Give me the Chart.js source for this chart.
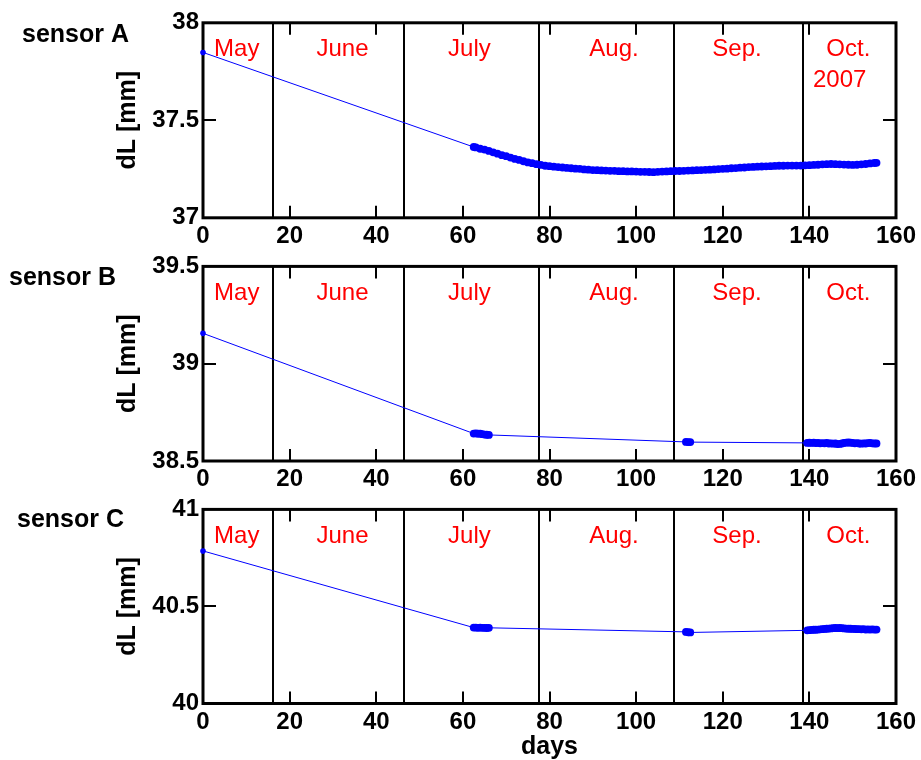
<!DOCTYPE html>
<html>
<head>
<meta charset="utf-8">
<script src="https://cdn.jsdelivr.net/npm/chart.js@4/dist/chart.umd.min.js"></script>
<style>
  body { margin: 0; background: #fff; }
  #wrap { position: relative; width: 921px; height: 760px; }
  canvas { position: absolute; left: 0; }
</style>
</head>
<body>
<div id="wrap">
  <canvas id="chartA" width="921" height="248" style="top:0px"></canvas>
  <canvas id="chartB" width="921" height="243" style="top:248px"></canvas>
  <canvas id="chartC" width="921" height="269" style="top:491px"></canvas>
</div>
<script>
// x axis (days) shared by all panels
const xTicks = [0, 20, 40, 60, 80, 100, 120, 140, 160];
const xTickLabels = ['0', '20', '40', '60', '80', '100', '120', '140', '160'];

// month boundaries and month names (days)
const monthBounds = [16.2, 46.3, 77.6, 108.7, 138.6];
const monthNames = ['May', 'June', 'July', 'Aug.', 'Sep.', 'Oct.'];
const monthCenters = [7.8, 32.2, 61.5, 94.9, 123.3, 149.0];

// sensor A
const yTicksA = [37, 37.5, 38];
const yTickLabelsA = ['37', '37.5', '38'];
const daysA = [0, 62.5, 63, 64, 65, 66, 67, 68, 69, 70, 71, 72, 73, 74, 75, 76, 77, 78, 79, 80,
  81, 82, 83, 84, 85, 86, 87, 88, 89, 90, 91, 92, 93, 94, 95, 96, 97, 98, 99, 100,
  101, 102, 103, 104, 105, 106, 107, 108, 109, 110, 111, 112, 113, 114, 115, 116, 117, 118, 119, 120,
  121, 122, 123, 124, 125, 126, 127, 128, 129, 130, 131, 132, 133, 134, 135, 136, 137, 138, 139, 140,
  141, 142, 143, 144, 145, 146, 147, 148, 149, 150, 151, 152, 153, 154, 155, 155.5];
const dLA = [37.848, 37.363, 37.361, 37.354, 37.350, 37.343, 37.336, 37.329, 37.321, 37.316, 37.309, 37.302, 37.297, 37.290, 37.284, 37.280, 37.275, 37.271, 37.267, 37.265,
  37.262, 37.260, 37.258, 37.256, 37.254, 37.252, 37.251, 37.248, 37.247, 37.245, 37.244, 37.243, 37.242, 37.241, 37.241, 37.239, 37.239, 37.238, 37.238, 37.237,
  37.236, 37.236, 37.235, 37.234, 37.236, 37.237, 37.238, 37.239, 37.240, 37.240, 37.241, 37.242, 37.243, 37.244, 37.245, 37.246, 37.247, 37.248, 37.250, 37.251,
  37.252, 37.254, 37.255, 37.257, 37.258, 37.260, 37.261, 37.262, 37.263, 37.264, 37.265, 37.266, 37.267, 37.267, 37.268, 37.268, 37.268, 37.268, 37.269, 37.270,
  37.271, 37.272, 37.274, 37.275, 37.276, 37.275, 37.274, 37.273, 37.272, 37.271, 37.272, 37.274, 37.276, 37.279, 37.281, 37.282];

// sensor B
const yTicksB = [38.5, 39, 39.5];
const yTickLabelsB = ['38.5', '39', '39.5'];
const daysB = [0, 62.5, 63, 63.5, 64, 64.5, 65, 65.5, 66, 111.5, 112, 112.5,
  139.5, 140, 140.5, 141, 141.5, 142, 142.5, 143, 143.5, 144, 144.5, 145, 145.5, 146, 146.5, 147, 147.5,
  148, 148.5, 149, 149.5, 150, 150.5, 151, 151.5, 152, 152.5, 153, 153.5, 154, 154.5, 155, 155.5];
const dLB = [39.156, 38.641, 38.642, 38.640, 38.641, 38.638, 38.636, 38.635, 38.634, 38.598, 38.597, 38.597,
  38.593, 38.594, 38.593, 38.594, 38.592, 38.593, 38.591, 38.592, 38.591, 38.593, 38.590, 38.591, 38.589, 38.590, 38.587, 38.588, 38.590,
  38.593, 38.594, 38.595, 38.594, 38.593, 38.591, 38.592, 38.590, 38.589, 38.591, 38.590, 38.592, 38.593, 38.591, 38.590, 38.590];

// sensor C
const yTicksC = [40, 40.5, 41];
const yTickLabelsC = ['40', '40.5', '41'];
const daysC = [0, 62.5, 63, 63.5, 64, 64.5, 65, 65.5, 66, 111.5, 112, 112.5,
  139.5, 140, 140.5, 141, 141.5, 142, 142.5, 143, 143.5, 144, 144.5, 145, 145.5, 146, 146.5, 147, 147.5,
  148, 148.5, 149, 149.5, 150, 150.5, 151, 151.5, 152, 152.5, 153, 153.5, 154, 154.5, 155, 155.5];
const dLC = [40.786, 40.391, 40.391, 40.390, 40.391, 40.390, 40.390, 40.389, 40.390, 40.369, 40.367, 40.366,
  40.377, 40.378, 40.379, 40.380, 40.380, 40.381, 40.382, 40.383, 40.384, 40.385, 40.386, 40.387, 40.388, 40.389, 40.388, 40.389, 40.388,
  40.387, 40.386, 40.385, 40.385, 40.384, 40.384, 40.383, 40.383, 40.382, 40.383, 40.381, 40.382, 40.381, 40.382, 40.381, 40.381];

const FONT = '"Liberation Sans", Arial, Helvetica, sans-serif';

// month lines + labels, frame, inward ticks, sensor name
const panelDecor = {
  id: 'panelDecor',
  beforeDatasetsDraw(chart, args, opts) {
    const ctx = chart.ctx;
    const a = chart.chartArea;
    const xs = chart.scales.x, ys = chart.scales.y;
    ctx.save();
    ctx.strokeStyle = '#000';
    ctx.lineWidth = 2;
    monthBounds.forEach(d => {
      const px = Math.round(xs.getPixelForValue(d));
      ctx.beginPath();
      ctx.moveTo(px, a.top);
      ctx.lineTo(px, a.bottom);
      ctx.stroke();
    });
    // inward ticks
    xTicks.slice(1, -1).forEach(v => {
      const px = Math.round(xs.getPixelForValue(v));
      ctx.beginPath();
      ctx.moveTo(px, a.bottom); ctx.lineTo(px, a.bottom - 12);
      ctx.moveTo(px, a.top); ctx.lineTo(px, a.top + 12);
      ctx.stroke();
    });
    opts.yTicks.slice(1, -1).forEach(v => {
      const py = Math.round(ys.getPixelForValue(v));
      ctx.beginPath();
      ctx.moveTo(a.left, py); ctx.lineTo(a.left + 13, py);
      ctx.moveTo(a.right, py); ctx.lineTo(a.right - 13, py);
      ctx.stroke();
    });
    // frame
    ctx.lineWidth = 3;
    ctx.strokeRect(a.left, a.top, a.right - a.left, a.bottom - a.top);
    // month names
    ctx.fillStyle = '#ff0000';
    ctx.font = '24px ' + FONT;
    ctx.textAlign = 'center';
    ctx.textBaseline = 'middle';
    monthNames.forEach((m, i) => {
      ctx.fillText(m, xs.getPixelForValue(monthCenters[i]), a.top + 27);
    });
    if (opts.year) {
      ctx.fillText(opts.year, xs.getPixelForValue(147.0), a.top + 58);
    }
    // sensor name
    ctx.fillStyle = '#000';
    ctx.font = 'bold 25px ' + FONT;
    ctx.textAlign = 'left';
    ctx.fillText(opts.name, opts.nameX, opts.nameY);
    ctx.restore();
  }
};

function makePanel(id, days, values, yTicks, yLabels, deco, layout) {
  const pts = days.map((d, i) => ({ x: d, y: values[i] }));
  return new Chart(document.getElementById(id), {
    type: 'scatter',
    data: {
      datasets: [{
        data: pts,
        showLine: true,
        borderColor: '#0000ff',
        borderWidth: 1,
        pointRadius: c => (c.dataIndex === 0 ? 2.8 : 3.9),
        pointBackgroundColor: '#0000ff',
        pointBorderWidth: 0,
        clip: false
      }]
    },
    options: {
      responsive: false,
      devicePixelRatio: 1,
      animation: false,
      events: [],
      layout: { padding: { top: layout.top, right: 25, bottom: 0, left: 0 } },
      plugins: {
        legend: { display: false },
        tooltip: { enabled: false },
        panelDecor: Object.assign({ yTicks: yTicks }, deco)
      },
      scales: {
        x: {
          type: 'linear',
          min: 0, max: 160,
          grid: { display: false, drawTicks: false },
          border: { display: false },
          afterBuildTicks: s => { s.ticks = xTicks.map(v => ({ value: v })); },
          afterFit: s => { s.height = layout.xh; },
          ticks: {
            autoSkip: false,
            maxRotation: 0,
            padding: 4,
            color: '#000',
            font: { family: FONT, size: 24, weight: 'bold' },
            callback: (v, i) => xTickLabels[i]
          },
          title: {
            display: !!layout.xTitle,
            text: layout.xTitle || '',
            color: '#000',
            font: { family: FONT, size: 25, weight: 'bold', lineHeight: 1 },
            padding: { top: 0, bottom: 0 }
          }
        },
        y: {
          min: yTicks[0], max: yTicks[yTicks.length - 1],
          grid: { display: false, drawTicks: false },
          border: { display: false },
          afterBuildTicks: s => { s.ticks = yTicks.map(v => ({ value: v })); },
          afterFit: s => { s.width = 203; },
          ticks: {
            autoSkip: false,
            padding: 4,
            color: '#000',
            font: { family: FONT, size: 24, weight: 'bold' },
            callback: (v, i) => yLabels[i]
          },
          title: {
            display: true,
            text: 'dL [mm]',
            color: '#000',
            font: { family: FONT, size: 25, weight: 'bold' },
            padding: { top: 113, bottom: 0 }
          }
        }
      }
    },
    plugins: [panelDecor]
  });
}

makePanel('chartA', daysA, dLA, yTicksA, yTickLabelsA,
  { name: 'sensor A', nameX: 22, nameY: 35, year: '2007' }, { top: 22.8, xh: 30.2 });
makePanel('chartB', daysB, dLB, yTicksB, yTickLabelsB,
  { name: 'sensor B', nameX: 9, nameY: 30 }, { top: 17, xh: 30 });
makePanel('chartC', daysC, dLC, yTicksC, yTickLabelsC,
  { name: 'sensor C', nameX: 17, nameY: 29 }, { top: 17.3, xh: 56.5, xTitle: 'days' });
</script>
</body>
</html>
